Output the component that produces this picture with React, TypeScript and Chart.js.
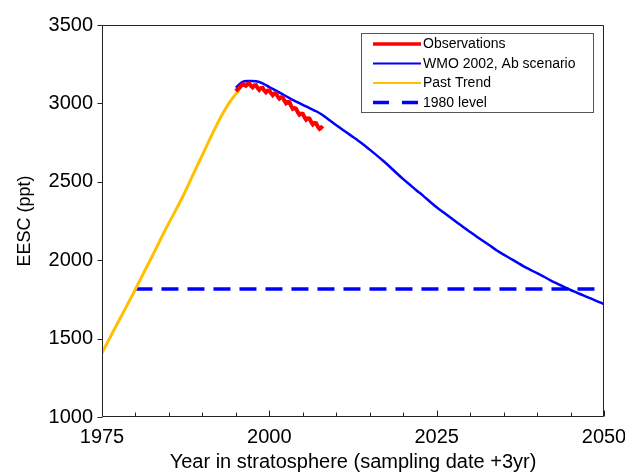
import { useEffect, useRef } from "react";
import { Chart, registerables } from "chart.js";

Chart.register(...registerables);

// Observed EESC (ppt), quarterly
const obsYears = [
  1995.0, 1995.25, 1995.5, 1995.75, 1996.0, 1996.25, 1996.5, 1996.75,
  1997.0, 1997.25, 1997.5, 1997.75, 1998.0, 1998.25, 1998.5, 1998.75,
  1999.0, 1999.25, 1999.5, 1999.75, 2000.0, 2000.25, 2000.5, 2000.75,
  2001.0, 2001.25, 2001.5, 2001.75, 2002.0, 2002.25, 2002.5, 2002.75,
  2003.0, 2003.25, 2003.5, 2003.75, 2004.0, 2004.25, 2004.5, 2004.75,
  2005.0, 2005.25, 2005.5, 2005.75, 2006.0, 2006.25, 2006.5, 2006.75,
  2007.0, 2007.25, 2007.5, 2007.75, 2008.0,
];
const obsEesc = [
  3078, 3090, 3098, 3110, 3122, 3118, 3112, 3124,
  3128, 3112, 3102, 3115, 3116, 3098, 3086, 3098,
  3100, 3082, 3070, 3081, 3083, 3065, 3052, 3064,
  3065, 3044, 3030, 3039, 3038, 3017, 3001, 3010,
  3008, 2984, 2965, 2971, 2966, 2944, 2928, 2935,
  2933, 2912, 2896, 2905, 2903, 2882, 2866, 2875,
  2873, 2852, 2838, 2847, 2838,
];

// WMO 2002 Ab scenario projection
const wmoYears = [
  1995, 1996, 1997, 1998, 1999, 2000, 2001, 2002, 2003, 2004,
  2005, 2006, 2007, 2008, 2009, 2010, 2011, 2012, 2013, 2014,
  2015, 2016, 2017, 2018, 2019, 2020, 2021, 2022, 2023, 2024,
  2025, 2026, 2027, 2028, 2029, 2030, 2031, 2032, 2033, 2034,
  2035, 2036, 2037, 2038, 2039, 2040, 2041, 2042, 2043, 2044,
  2045, 2046, 2047, 2048, 2049, 2050,
];
const wmoEesc = [
  3100, 3138, 3143, 3141, 3128, 3104, 3082, 3058, 3034, 3012,
  2991, 2970, 2950, 2925, 2892, 2861, 2831, 2801, 2771, 2740,
  2705, 2670, 2634, 2596, 2556, 2517, 2481, 2445, 2410, 2373,
  2338, 2306, 2274, 2242, 2210, 2180, 2150, 2121, 2092, 2062,
  2036, 2011, 1986, 1961, 1939, 1917, 1895, 1872, 1851, 1830,
  1810, 1792, 1774, 1756, 1738, 1720,
];

// Past trend
const trendYears = [
  1975, 1976, 1977, 1978, 1979, 1980, 1981, 1982, 1983, 1984, 1985,
  1986, 1987, 1988, 1989, 1990, 1991, 1992, 1993, 1994, 1995, 1995.5,
];
const trendEesc = [
  1410, 1490, 1572, 1652, 1733, 1815, 1900, 1984, 2068, 2155, 2238,
  2318, 2400, 2490, 2582, 2672, 2762, 2850, 2932, 3003, 3060, 3085,
];

// 1980 reference level
const levelYears = [1980, 2050];
const level1980 = 1816;

const xMajorTicks = [1975, 2000, 2025, 2050];
const xMinorTicks = [1980, 1985, 1990, 1995, 2005, 2010, 2015, 2020, 2030, 2035, 2040, 2045];
const yTicks = [1000, 1500, 2000, 2500, 3000, 3500];

const legendLabels = ["Observations", "WMO 2002, Ab scenario", "Past Trend", "1980 level"];

const FONT = "'Liberation Sans', Arial, sans-serif";
const RED = "#FF0000";
const BLUE = "#0000FF";
const GOLD = "#FFC000";

const frameAndLegend = {
  id: "frameAndLegend",
  afterDraw(chart: any) {
    const { ctx, chartArea, scales } = chart;
    const { left, right, top, bottom } = chartArea;
    const xs = scales.x;
    const ys = scales.y;
    ctx.save();

    // plot frame
    ctx.strokeStyle = "#222";
    ctx.lineWidth = 1;
    const l = Math.round(left) + 0.5;
    const r = Math.round(right) - 0.5;
    const t = Math.round(top) + 0.5;
    const b = Math.round(bottom) - 0.5;
    ctx.beginPath();
    ctx.moveTo(l, t);
    ctx.lineTo(r, t);
    ctx.lineTo(r, b);
    ctx.lineTo(l, b);
    ctx.closePath();
    ctx.stroke();

    // y ticks, pointing out
    ctx.beginPath();
    yTicks.forEach((v) => {
      const py = Math.round(ys.getPixelForValue(v)) + 0.5;
      ctx.moveTo(l - 5, py);
      ctx.lineTo(l, py);
    });
    // x ticks, pointing in
    xMajorTicks.forEach((v) => {
      const px = Math.round(xs.getPixelForValue(v)) + 0.5;
      ctx.moveTo(px, b);
      ctx.lineTo(px, b - 6);
    });
    xMinorTicks.forEach((v) => {
      const px = Math.round(xs.getPixelForValue(v)) + 0.5;
      ctx.moveTo(px, b);
      ctx.lineTo(px, b - 4);
    });
    ctx.stroke();

    // legend box
    const bx = 361.5, by = 33.5, bw = 232, bh = 79;
    ctx.fillStyle = "#fff";
    ctx.fillRect(bx, by, bw, bh);
    ctx.strokeStyle = "#555";
    ctx.lineWidth = 1;
    ctx.strokeRect(bx, by, bw, bh);

    const rows = [44, 63.5, 83, 102.5];
    const styles = [
      { color: RED, width: 3.5, dash: [] as number[] },
      { color: BLUE, width: 2, dash: [] as number[] },
      { color: GOLD, width: 2, dash: [] as number[] },
      { color: BLUE, width: 3.5, dash: [16, 13] },
    ];
    ctx.font = `14px ${FONT}`;
    ctx.textBaseline = "middle";
    ctx.textAlign = "left";
    rows.forEach((ry, i) => {
      const s = styles[i];
      ctx.strokeStyle = s.color;
      ctx.lineWidth = s.width;
      ctx.setLineDash(s.dash);
      ctx.beginPath();
      ctx.moveTo(373, ry);
      ctx.lineTo(421, ry);
      ctx.stroke();
      ctx.setLineDash([]);
      ctx.fillStyle = "#000";
      ctx.fillText(legendLabels[i], 423, ry + 0.5);
    });

    ctx.restore();
  },
};

export default function App() {
  const canvasRef = useRef<HTMLCanvasElement | null>(null);

  useEffect(() => {
    const canvas = canvasRef.current;
    if (!canvas) return;

    const toPts = (xs: number[], ys: number[]) => xs.map((x, i) => ({ x, y: ys[i] }));
    const plainLabel = (v: any) => String(v);

    const chart = new Chart(canvas, {
      type: "line",
      data: {
        datasets: [
          {
            label: legendLabels[0],
            data: toPts(obsYears, obsEesc),
            borderColor: RED,
            borderWidth: 4,
            pointRadius: 0,
            tension: 0,
            order: 0,
          },
          {
            label: legendLabels[1],
            data: toPts(wmoYears, wmoEesc),
            borderColor: BLUE,
            borderWidth: 2.5,
            pointRadius: 0,
            tension: 0.3,
            order: 1,
          },
          {
            label: legendLabels[2],
            data: toPts(trendYears, trendEesc),
            borderColor: GOLD,
            borderWidth: 3,
            pointRadius: 0,
            tension: 0.3,
            order: 2,
          },
          {
            label: legendLabels[3],
            data: levelYears.map((x) => ({ x, y: level1980 })),
            borderColor: BLUE,
            borderWidth: 3.5,
            borderDash: [17, 9],
            pointRadius: 0,
            order: 3,
          },
        ],
      },
      options: {
        responsive: false,
        animation: false,
        layout: { padding: { top: 25, right: 21, left: 0, bottom: 0 } },
        plugins: {
          legend: { display: false },
          tooltip: { enabled: false },
        },
        scales: {
          x: {
            type: "linear",
            min: 1975,
            max: 2050,
            grid: { display: false, drawTicks: false },
            border: { display: false },
            afterFit: (scale: any) => {
              scale.height = 58;
              scale.paddingLeft = 0;
              scale.paddingRight = 0;
            },
            afterBuildTicks: (scale: any) => {
              scale.ticks = xMajorTicks.map((v) => ({ value: v }));
            },
            ticks: {
              color: "#000",
              padding: 8,
              maxRotation: 0,
              callback: plainLabel,
              font: { family: FONT, size: 20 },
            },
            title: {
              display: true,
              text: "Year in stratosphere (sampling date +3yr)",
              color: "#000",
              font: { family: FONT, size: 20 },
              padding: { top: 0, bottom: 1 },
            },
          },
          y: {
            type: "linear",
            min: 1000,
            max: 3500,
            grid: { display: false, drawTicks: false },
            border: { display: false },
            afterFit: (scale: any) => {
              scale.width = 102;
              scale.paddingTop = 0;
              scale.paddingBottom = 0;
            },
            afterBuildTicks: (scale: any) => {
              scale.ticks = yTicks.map((v) => ({ value: v }));
            },
            ticks: {
              color: "#000",
              padding: 9,
              callback: plainLabel,
              font: { family: FONT, size: 20 },
            },
            title: {
              display: true,
              text: "EESC (ppt)",
              color: "#000",
              font: { family: FONT, size: 18 },
              padding: { top: 14, bottom: 0 },
            },
          },
        },
      },
      plugins: [frameAndLegend],
    });

    return () => chart.destroy();
  }, []);

  return (
    <canvas
      ref={canvasRef}
      width={625}
      height={475}
      style={{ position: "fixed", left: 0, top: 0, display: "block", background: "#fff" }}
    />
  );
}
